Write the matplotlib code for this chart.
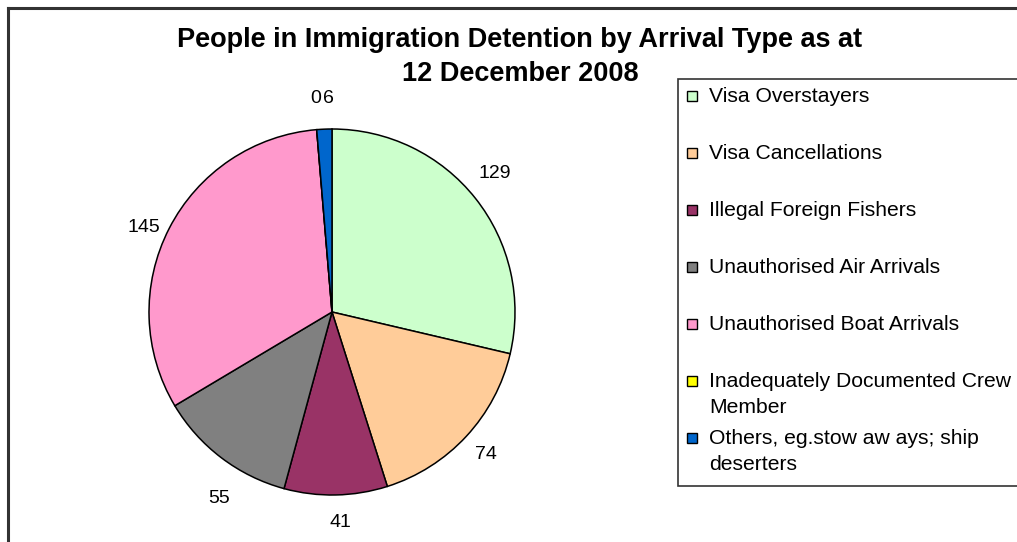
import matplotlib
matplotlib.use("Agg")
import matplotlib.pyplot as plt
import numpy as np
from matplotlib.patches import Rectangle
from matplotlib.lines import Line2D

plt.rcParams['font.family'] = ['Liberation Sans', 'DejaVu Sans']

title_lines = ["People in Immigration Detention by Arrival Type as at", "12 December 2008"]
categories = ["Visa Overstayers", "Visa Cancellations", "Illegal Foreign Fishers",
              "Unauthorised Air Arrivals", "Unauthorised Boat Arrivals",
              "Inadequately Documented Crew\nMember",
              "Others, eg.stow aw ays; ship\ndeserters"]
values = [129, 74, 41, 55, 145, 0, 6]
colors = ["#CCFFCC", "#FFCC99", "#993366", "#808080", "#FF99CC", "#FFFF00", "#0066CC"]

W, H = 1017, 542
fig = plt.figure(figsize=(W / 100, H / 100), dpi=100)

# overlay axes in pixel coordinates
ov = fig.add_axes([0, 0, 1, 1])
ov.set_xlim(0, W)
ov.set_ylim(H, 0)
ov.axis('off')

# outer chart frame (extends beyond the image on right/bottom)
ov.add_line(Line2D([8, 8], [8, H + 5], color='#333333', lw=2.2))
ov.add_line(Line2D([8, W + 5], [8, 8], color='#333333', lw=2.2))

# title
ov.text(520, 40, title_lines[0], ha='center', va='center', fontsize=19.5, fontweight='bold')
ov.text(520, 74, title_lines[1], ha='center', va='center', fontsize=19.5, fontweight='bold')

# pie
cx, cy, r = 332, 312, 183
pax = fig.add_axes([(cx - r) / W, (H - cy - r) / H, 2 * r / W, 2 * r / H])
wedges, _ = pax.pie(values, colors=colors, startangle=90, counterclock=False,
                    wedgeprops=dict(edgecolor='black', linewidth=1.1))
pax.set_xlim(-1, 1)
pax.set_ylim(-1, 1)
pax.set_aspect('equal')

# data labels
total = float(sum(values))
dist = [1.17, 1.15, 1.15, 1.19, 1.13, 1.17, 1.17]
adj = [2, 0, 1, 6, 3, 0, 0]  # small angular nudges (degrees)
offs = [(0, 0), (0, 0), (0, 0), (0, 0), (0, 0), (1, 0), (3.6, 0)]
cum = 0.0
for i, v in enumerate(values):
    mid = 90 - 360 * (cum + v / 2) / total + adj[i]
    cum += v
    ang = np.deg2rad(mid)
    pax.annotate(str(v), xy=(dist[i] * np.cos(ang), dist[i] * np.sin(ang)),
                 xytext=offs[i], textcoords='offset points',
                 ha='center', va='center', fontsize=14, annotation_clip=False)

# legend box
lx0, ly0, lx1, ly1 = 678, 79, W + 2, 486
ov.add_patch(Rectangle((lx0, ly0), lx1 - lx0, ly1 - ly0, facecolor='white',
                       edgecolor='#333333', lw=1.2))
for i, (lab, col) in enumerate(zip(categories, colors)):
    y = 95 + i * 57.0
    ov.add_patch(Rectangle((687, y - 4.5), 10, 10, facecolor=col, edgecolor='black', lw=1.0))
    ov.text(709, y - 8, lab, ha='left', va='top', fontsize=15.2, linespacing=1.45)

fig.savefig("out.png", dpi=100)
